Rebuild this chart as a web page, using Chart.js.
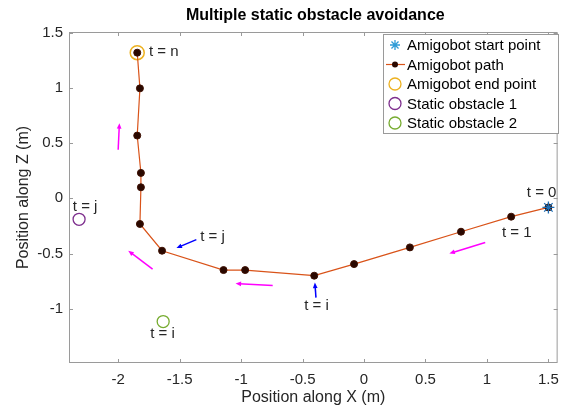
<!DOCTYPE html>
<html>
<head>
<meta charset="utf-8">
<script src="https://cdn.jsdelivr.net/npm/chart.js@4.4.0/dist/chart.umd.min.js"></script>
<style>
  html, body { margin: 0; padding: 0; background: #fff; }
  #wrap { width: 567px; height: 409px; }
</style>
</head>
<body>
<div id="wrap"><canvas id="chart" width="567" height="409"></canvas></div>
<script>
// path of the robot, from t = 0 (start) to t = n (end)
const pathX = [1.5, 1.197, 0.789, 0.373, -0.081, -0.405, -0.967, -1.143, -1.643, -1.823, -1.815, -1.815, -1.845, -1.823, -1.845];
const pathZ = [-0.082, -0.166, -0.302, -0.444, -0.595, -0.70, -0.649, -0.649, -0.474, -0.232, 0.10, 0.23, 0.568, 0.995, 1.318];

const startPoint = [1.5, -0.082];
const endPoint = [-1.845, 1.318];
const obstacle1 = [-2.318, -0.19];
const obstacle2 = [-1.634, -1.115];

const xTicks = [-2, -1.5, -1, -0.5, 0, 0.5, 1, 1.5];
const yTicks = [-1, -0.5, 0, 0.5, 1, 1.5];

// text notes: [text, x, z]
const notes = [
  ["t = n", -1.629, 1.324],
  ["t = j", -2.269, -0.073],
  ["t = j", -1.232, -0.345],
  ["t = i", -0.387, -0.973],
  ["t = i", -1.639, -1.229],
  ["t = 0", 1.445, 0.054],
  ["t = 1", 1.242, -0.308]
];

// arrows: [x0, z0, x1, z1, colour]
const arrows = [
  [-2.0, 0.44, -1.99, 0.68, "#ff00ff"],
  [-1.72, -0.64, -1.918, -0.474, "#ff00ff"],
  [-0.743, -0.789, -1.045, -0.771, "#ff00ff"],
  [0.986, -0.399, 0.694, -0.499, "#ff00ff"],
  [-1.364, -0.374, -1.526, -0.45, "#0000ff"],
  [-0.391, -0.898, -0.40, -0.762, "#0000ff"]
];

const legendLabels = ["Amigobot start point", "Amigobot path", "Amigobot end point", "Static obstacle 1", "Static obstacle 2"];

const FONT = "'Liberation Sans', Arial, sans-serif";
const AXIS_GREY = "#9a9a9a";
const TEXT = "#262626";

const pathPoints = pathX.map((x, i) => ({ x: x, y: pathZ[i] }));

function drawArrow(ctx, x0, y0, x1, y1, colour) {
  const ang = Math.atan2(y1 - y0, x1 - x0);
  const head = 6;
  ctx.save();
  ctx.strokeStyle = colour;
  ctx.fillStyle = colour;
  ctx.lineWidth = 1.5;
  ctx.beginPath();
  ctx.moveTo(x0, y0);
  ctx.lineTo(x1 - Math.cos(ang) * head * 0.6, y1 - Math.sin(ang) * head * 0.6);
  ctx.stroke();
  ctx.beginPath();
  ctx.moveTo(x1, y1);
  ctx.lineTo(x1 - head * Math.cos(ang - 0.4), y1 - head * Math.sin(ang - 0.4));
  ctx.lineTo(x1 - head * Math.cos(ang + 0.4), y1 - head * Math.sin(ang + 0.4));
  ctx.closePath();
  ctx.fill();
  ctx.restore();
}

const decorPlugin = {
  id: "decor",
  afterDraw(chart) {
    const ctx = chart.ctx;
    const a = chart.chartArea;
    const xs = chart.scales.x;
    const ys = chart.scales.y;

    // box and inner ticks
    ctx.save();
    ctx.strokeStyle = AXIS_GREY;
    ctx.lineWidth = 1;
    ctx.strokeRect(a.left + 0.5, a.top + 0.5, a.right - a.left - 1, a.bottom - a.top - 1);
    ctx.beginPath();
    xTicks.forEach(v => {
      const px = Math.round(xs.getPixelForValue(v)) + 0.5;
      ctx.moveTo(px, a.bottom); ctx.lineTo(px, a.bottom - 4);
      ctx.moveTo(px, a.top); ctx.lineTo(px, a.top + 4);
    });
    yTicks.forEach(v => {
      const py = Math.round(ys.getPixelForValue(v)) + 0.5;
      ctx.moveTo(a.left, py); ctx.lineTo(a.left + 4, py);
      ctx.moveTo(a.right, py); ctx.lineTo(a.right - 4, py);
    });
    ctx.stroke();
    ctx.restore();

    // title
    ctx.save();
    ctx.fillStyle = "#000";
    ctx.font = "bold 16px " + FONT;
    ctx.textAlign = "center";
    ctx.textBaseline = "middle";
    ctx.fillText("Multiple static obstacle avoidance", (a.left + a.right) / 2 + 2, 16);
    ctx.restore();

    // arrows and notes
    arrows.forEach(r => {
      drawArrow(ctx, xs.getPixelForValue(r[0]), ys.getPixelForValue(r[1]),
        xs.getPixelForValue(r[2]), ys.getPixelForValue(r[3]), r[4]);
    });
    ctx.save();
    ctx.fillStyle = TEXT;
    ctx.font = "15px " + FONT;
    ctx.textAlign = "center";
    ctx.textBaseline = "middle";
    notes.forEach(n => {
      ctx.fillText(n[0], xs.getPixelForValue(n[1]), ys.getPixelForValue(n[2]));
    });
    ctx.restore();

    // legend
    const lx = 383, ly = 34, lw = 175, lh = 99;
    const rows = [45, 64.5, 84, 103.5, 123];
    ctx.save();
    ctx.fillStyle = "#fff";
    ctx.fillRect(lx, ly, lw, lh);
    ctx.strokeStyle = AXIS_GREY;
    ctx.lineWidth = 1;
    ctx.strokeRect(lx + 0.5, ly + 0.5, lw, lh);
    const sx = 395;
    // start star
    ctx.strokeStyle = "#2e9bd6";
    ctx.lineWidth = 1.3;
    ctx.beginPath();
    for (let k = 0; k < 4; k++) {
      const t = k * Math.PI / 4;
      ctx.moveTo(sx - 5 * Math.cos(t), rows[0] - 5 * Math.sin(t));
      ctx.lineTo(sx + 5 * Math.cos(t), rows[0] + 5 * Math.sin(t));
    }
    ctx.stroke();
    // path
    ctx.strokeStyle = "#d95319";
    ctx.lineWidth = 1.2;
    ctx.beginPath();
    ctx.moveTo(386, rows[1]); ctx.lineTo(405, rows[1]);
    ctx.stroke();
    ctx.fillStyle = "#2a0800";
    ctx.beginPath(); ctx.arc(sx, rows[1], 3, 0, Math.PI * 2); ctx.fill();
    // circles
    [["#edb120", rows[2]], ["#7e2f8e", rows[3]], ["#77ac30", rows[4]]].forEach(c => {
      ctx.strokeStyle = c[0];
      ctx.lineWidth = 1.3;
      ctx.beginPath(); ctx.arc(sx, c[1], 6, 0, Math.PI * 2); ctx.stroke();
    });
    ctx.fillStyle = "#000";
    ctx.font = "15px " + FONT;
    ctx.textAlign = "left";
    ctx.textBaseline = "middle";
    legendLabels.forEach((t, i) => ctx.fillText(t, 407, rows[i] + 1));
    ctx.restore();
  }
};

new Chart(document.getElementById("chart"), {
  type: "scatter",
  data: {
    datasets: [
      {
        label: legendLabels[0],
        data: [{ x: startPoint[0], y: startPoint[1] }],
        pointStyle: "star",
        pointRadius: 6,
        pointBorderColor: "#1f6fb5",
        pointBorderWidth: 1.3,
        order: 1
      },
      {
        label: legendLabels[1],
        data: pathPoints,
        showLine: true,
        borderColor: "#d95319",
        borderWidth: 1.2,
        pointRadius: 3.5,
        pointBackgroundColor: "#2a0800",
        pointBorderColor: "#3d0f00",
        pointBorderWidth: 1,
        order: 2
      },
      {
        label: legendLabels[2],
        data: [{ x: endPoint[0], y: endPoint[1] }],
        pointRadius: 7,
        pointBackgroundColor: "rgba(0,0,0,0)",
        pointBorderColor: "#edb120",
        pointBorderWidth: 1.5,
        order: 3
      },
      {
        label: legendLabels[3],
        data: [{ x: obstacle1[0], y: obstacle1[1] }],
        pointRadius: 6,
        pointBackgroundColor: "rgba(0,0,0,0)",
        pointBorderColor: "#7e2f8e",
        pointBorderWidth: 1.3,
        order: 4
      },
      {
        label: legendLabels[4],
        data: [{ x: obstacle2[0], y: obstacle2[1] }],
        pointRadius: 6,
        pointBackgroundColor: "rgba(0,0,0,0)",
        pointBorderColor: "#77ac30",
        pointBorderWidth: 1.3,
        order: 5
      }
    ]
  },
  options: {
    responsive: false,
    animation: false,
    layout: { padding: { top: 32, right: 7, bottom: 0, left: 0 } },
    plugins: {
      legend: { display: false },
      title: { display: false },
      tooltip: { enabled: false }
    },
    scales: {
      x: {
        type: "linear",
        min: -2.4,
        max: 1.575,
        afterBuildTicks: scale => { scale.ticks = xTicks.map(v => ({ value: v })); },
        afterFit: scale => { scale.height = 46; },
        grid: { display: false, drawTicks: false },
        border: { display: false },
        ticks: {
          padding: 8,
          color: TEXT,
          font: { family: FONT, size: 15 },
          maxRotation: 0,
          callback: v => String(v)
        },
        title: {
          display: true,
          text: "Position along X (m)",
          color: TEXT,
          font: { family: FONT, size: 16 },
          padding: { top: 0, bottom: 2 }
        }
      },
      y: {
        type: "linear",
        min: -1.49,
        max: 1.505,
        afterBuildTicks: scale => { scale.ticks = yTicks.map(v => ({ value: v })); },
        afterFit: scale => { scale.width = 69; },
        grid: { display: false, drawTicks: false },
        border: { display: false },
        ticks: {
          padding: 6,
          color: TEXT,
          font: { family: FONT, size: 15 },
          callback: v => String(v)
        },
        title: {
          display: true,
          text: "Position along Z (m)",
          color: TEXT,
          font: { family: FONT, size: 16 },
          padding: { top: 14, bottom: 0 }
        }
      }
    }
  },
  plugins: [decorPlugin]
});
</script>
</body>
</html>
